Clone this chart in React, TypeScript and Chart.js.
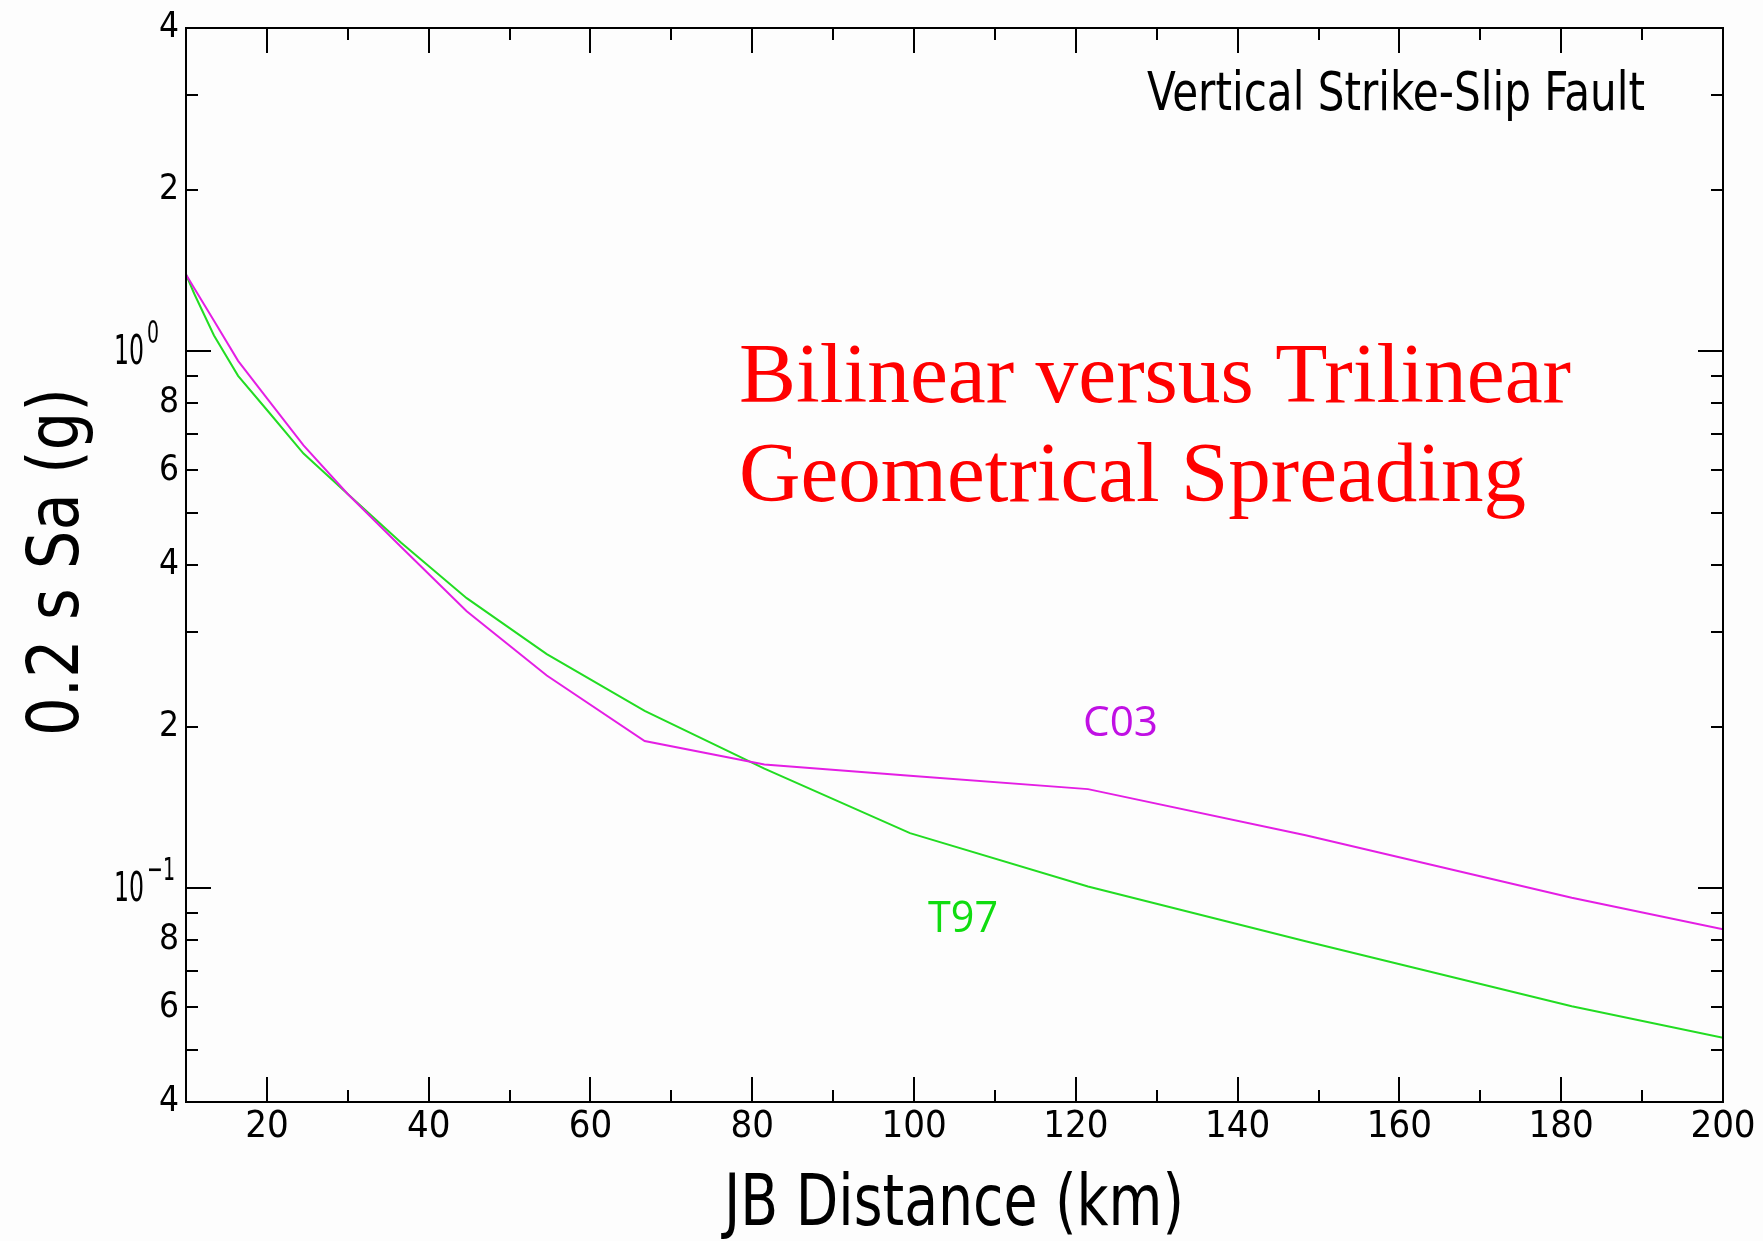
import React, { useEffect, useRef } from 'react';
import { Chart, registerables } from 'chart.js';

Chart.register(...registerables);

// ---- data ----
const distancesKm = [10, 11.02, 13.46, 16.44, 20.09, 24.53, 29.96, 36.6, 44.7, 54.6, 66.7, 81.5, 99.5, 121.5, 148.4, 181.3, 200];
const c03Sa = [1.39, 1.31, 1.14, 0.96, 0.815, 0.668, 0.543, 0.432, 0.328, 0.249, 0.188, 0.170, 0.162, 0.153, 0.1255, 0.096, 0.0839];
const t97Sa = [1.39, 1.28, 1.07, 0.9, 0.775, 0.645, 0.543, 0.44, 0.347, 0.273, 0.214, 0.167, 0.1267, 0.1008, 0.0797, 0.0603, 0.0527];

const xTickValues = [20, 40, 60, 80, 100, 120, 140, 160, 180, 200];
const xTickLabels = ['20', '40', '60', '80', '100', '120', '140', '160', '180', '200'];
const xMajorMarks = [20, 40, 60, 80, 100, 120, 140, 160, 180];
const xMinorMarks = [30, 50, 70, 90, 110, 130, 150, 170, 190];

const yTickValues = [0.04, 0.06, 0.08, 0.1, 0.2, 0.4, 0.6, 0.8, 1, 2, 4];
const yTickLabels = ['4', '6', '8', '10^-1', '2', '4', '6', '8', '10^0', '2', '4'];
const yMajorMarks = [0.1, 1];
const yMinorMarks = [0.05, 0.06, 0.07, 0.08, 0.09, 0.2, 0.3, 0.4, 0.5, 0.6, 0.7, 0.8, 0.9, 2, 3];

const xTitle = 'JB Distance (km)';
const yTitle = '0.2 s Sa (g)';
const cornerNote = 'Vertical Strike-Slip Fault';
const bannerLines = ['Bilinear versus Trilinear', 'Geometrical Spreading'];
const seriesNames = ['C03', 'T97'];

const NARROW = "'Liberation Sans Narrow', 'DejaVu Sans Condensed', 'Arial Narrow', sans-serif";
const C03_LINE = '#e41ee4';
const T97_LINE = '#22dc22';
const C03_TEXT = '#c010e4';
const T97_TEXT = '#10dc10';

function fitText(
  ctx: CanvasRenderingContext2D,
  text: string,
  x: number,
  y: number,
  width: number,
  font: string,
  color: string,
  align: CanvasTextAlign,
  rotate = 0
) {
  ctx.save();
  ctx.font = font;
  const w = ctx.measureText(text).width;
  ctx.translate(x, y);
  if (rotate) ctx.rotate(rotate);
  ctx.scale(width / w, 1);
  ctx.fillStyle = color;
  ctx.textAlign = align;
  ctx.textBaseline = 'alphabetic';
  ctx.fillText(text, 0, 0);
  ctx.restore();
}

const framePlugin = {
  id: 'frameAndText',
  beforeDraw(chart: any) {
    const ctx = chart.ctx as CanvasRenderingContext2D;
    ctx.save();
    ctx.fillStyle = '#fdfdfd';
    ctx.fillRect(0, 0, chart.width, chart.height);
    ctx.restore();
  },
  afterDraw(chart: any) {
    const ctx = chart.ctx as CanvasRenderingContext2D;
    const a = chart.chartArea;
    const xs = chart.scales.x;
    const ys = chart.scales.y;
    ctx.save();
    ctx.strokeStyle = '#000';
    ctx.lineWidth = 2;
    ctx.strokeRect(Math.round(a.left), Math.round(a.top), Math.round(a.right - a.left), Math.round(a.bottom - a.top));
    ctx.beginPath();
    const xMark = (v: number, len: number) => {
      const px = Math.round(xs.getPixelForValue(v));
      ctx.moveTo(px, a.bottom);
      ctx.lineTo(px, a.bottom - len);
      ctx.moveTo(px, a.top);
      ctx.lineTo(px, a.top + len);
    };
    const yMark = (v: number, len: number) => {
      const py = Math.round(ys.getPixelForValue(v));
      ctx.moveTo(a.left, py);
      ctx.lineTo(a.left + len, py);
      ctx.moveTo(a.right, py);
      ctx.lineTo(a.right - len, py);
    };
    xMajorMarks.forEach((v) => xMark(v, 25));
    xMinorMarks.forEach((v) => xMark(v, 12));
    yMajorMarks.forEach((v) => yMark(v, 25));
    yMinorMarks.forEach((v) => yMark(v, 12));
    ctx.stroke();
    ctx.restore();

    // power-of-ten labels with superscripts
    yTickLabels.forEach((lab, i) => {
      if (!lab.includes('^')) return;
      const [base, exp] = lab.split('^');
      const py = ys.getPixelForValue(yTickValues[i]);
      fitText(ctx, base, a.left - 72, py + 13, 30, `40px ${NARROW}`, '#000', 'left');
      const e = exp.replace('-', '\u2212');
      fitText(ctx, e, a.left - 39, py - 8, e.length > 1 ? 28 : 12, `32px ${NARROW}`, '#000', 'left');
    });

    // axis titles
    fitText(ctx, xTitle, 954, 1225, 460, `72px ${NARROW}`, '#000', 'center');
    fitText(ctx, yTitle, 78, 562, 348, `72px ${NARROW}`, '#000', 'center', -Math.PI / 2);
    // annotations
    fitText(ctx, cornerNote, 1147, 110, 498, `54px ${NARROW}`, '#000', 'left');
    fitText(ctx, bannerLines[0], 739, 402, 832, `85px 'Liberation Serif', 'Times New Roman', serif`, '#ff0000', 'left');
    fitText(ctx, bannerLines[1], 739, 501, 787, `85px 'Liberation Serif', 'Times New Roman', serif`, '#ff0000', 'left');
    fitText(ctx, seriesNames[0], 1083, 736, 75, `42px 'Open Sans', 'Noto Sans', sans-serif`, C03_TEXT, 'left');
    fitText(ctx, seriesNames[1], 928, 932, 70, `44px 'Open Sans', 'Noto Sans', sans-serif`, T97_TEXT, 'left');
  },
};

export default function App() {
  const ref = useRef<HTMLCanvasElement>(null);
  useEffect(() => {
    document.body.style.margin = '0';
    const canvas = ref.current!;
    const chart = new Chart(canvas, {
      type: 'line',
      data: {
        datasets: [
          {
            label: seriesNames[0],
            data: distancesKm.map((d, i) => ({ x: d, y: c03Sa[i] })),
            borderColor: C03_LINE,
            borderWidth: 2,
            pointRadius: 0,
            tension: 0,
            fill: false,
          },
          {
            label: seriesNames[1],
            data: distancesKm.map((d, i) => ({ x: d, y: t97Sa[i] })),
            borderColor: T97_LINE,
            borderWidth: 2,
            pointRadius: 0,
            tension: 0,
            fill: false,
          },
        ],
      },
      options: {
        animation: false,
        responsive: false,
        devicePixelRatio: 1,
        layout: { padding: { top: 21, right: 40, left: 0, bottom: 0 } },
        plugins: { legend: { display: false }, tooltip: { enabled: false } },
        scales: {
          x: {
            type: 'linear',
            position: 'bottom',
            min: 10,
            max: 200,
            grid: { display: false, drawTicks: false },
            border: { display: false },
            ticks: {
              autoSkip: false,
              maxRotation: 0,
              padding: 2,
              color: '#000',
              font: { family: NARROW, size: 38 },
              callback: (v: any) => {
                const i = xTickValues.indexOf(Number(v));
                return i >= 0 ? xTickLabels[i] : '';
              },
            },
            afterBuildTicks: (s: any) => {
              s.ticks = xTickValues.map((v) => ({ value: v }));
            },
            afterFit: (s: any) => {
              s.height = 139;
            },
          },
          y: {
            type: 'logarithmic',
            position: 'left',
            min: 0.04,
            max: 4,
            grid: { display: false, drawTicks: false },
            border: { display: false },
            ticks: {
              autoSkip: false,
              padding: 7,
              color: '#000',
              font: { family: NARROW, size: 35 },
              callback: (v: any) => {
                const i = yTickValues.findIndex((t) => Math.abs(t - Number(v)) < 1e-9);
                if (i < 0) return '';
                const lab = yTickLabels[i];
                return lab.includes('^') ? '' : lab;
              },
            },
            afterBuildTicks: (s: any) => {
              s.ticks = yTickValues.map((v) => ({ value: v }));
            },
            afterFit: (s: any) => {
              s.width = 186;
            },
          },
        },
      },
      plugins: [framePlugin],
    } as any);
    return () => chart.destroy();
  }, []);
  return (
    <div style={{ width: 1763, height: 1241 }}>
      <canvas ref={ref} width={1763} height={1241} style={{ display: 'block', width: 1763, height: 1241 }} />
    </div>
  );
}
